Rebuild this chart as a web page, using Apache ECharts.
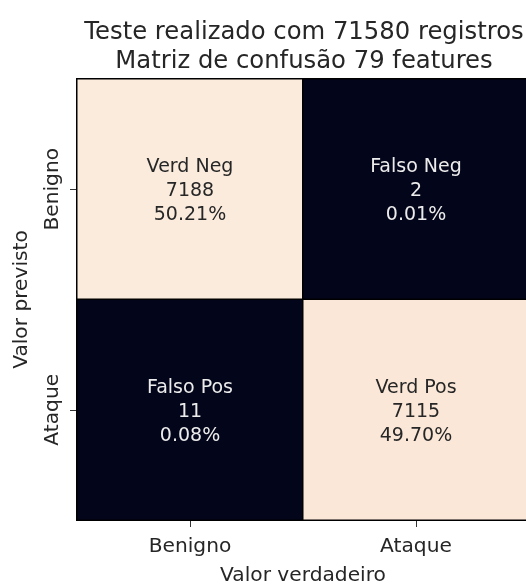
<!DOCTYPE html>
<html>
<head>
<meta charset="utf-8">
<script src="https://cdn.jsdelivr.net/npm/echarts@6/dist/echarts.min.js"></script>
<style>
  html, body { margin: 0; padding: 0; background: #fff; }
  #chart { width: 526px; height: 584px; }
</style>
</head>
<body>
<div id="chart"></div>
<script>
// categorias e valores da matriz
const trueCats = ['Benigno', 'Ataque']
const predCats = ['Benigno', 'Ataque']
// linhas = valor previsto, colunas = valor verdadeiro
const cellNames = [['Verd Neg', 'Falso Neg'], ['Falso Pos', 'Verd Pos']]
const cellCounts = [[7188, 2], [11, 7115]]
const cellPercents = [['50.21%', '0.01%'], ['0.08%', '49.70%']]

const font = 'DejaVu Sans'
const heatData = []
for (let r = 0; r < predCats.length; r++) {
  for (let c = 0; c < trueCats.length; c++) {
    heatData.push({
      value: [c, r, cellCounts[r][c]],
      label: { color: cellCounts[r][c] > 3600 ? '#262626' : '#ececec' }
    })
  }
}

const myChart = echarts.init(document.getElementById('chart'))
myChart.setOption({
  backgroundColor: '#fff',
  animation: false,
  title: {
    text: 'Teste realizado com 71580 registros\nMatriz de confusão 79 features',
    left: 299,
    top: 13,
    textAlign: 'center',
    textStyle: { fontFamily: font, fontSize: 24.3, fontWeight: 'normal', color: '#262626', lineHeight: 29 }
  },
  grid: { left: 77, top: 79, right: -3, bottom: 64, outerBoundsMode: 'none' },
  xAxis: {
    type: 'category',
    data: trueCats,
    name: 'Valor verdadeiro',
    nameLocation: 'middle',
    nameGap: 46,
    nameTextStyle: { fontFamily: font, fontSize: 20.2, color: '#262626' },
    axisLine: { show: false },
    axisTick: { show: true, alignWithLabel: true, length: 7, lineStyle: { color: '#333' } },
    axisLabel: { fontFamily: font, fontSize: 20.2, color: '#262626', margin: 17 },
    splitLine: { show: false }
  },
  yAxis: {
    type: 'category',
    data: predCats,
    inverse: true,
    name: 'Valor previsto',
    nameLocation: 'middle',
    nameRotate: 90,
    nameGap: 45,
    nameTextStyle: { fontFamily: font, fontSize: 20.2, color: '#262626' },
    axisLine: { show: false },
    axisTick: { show: true, alignWithLabel: true, length: 7, lineStyle: { color: '#333' } },
    axisLabel: { fontFamily: font, fontSize: 20.2, color: '#262626', rotate: 90, margin: 14 },
    splitLine: { show: false }
  },
  visualMap: {
    show: false,
    min: 2,
    max: 7188,
    inRange: { color: ['#03051a', '#4c1d4b', '#a11a5b', '#e83f3f', '#f69c73', '#faebdd'] }
  },
  series: [{
    type: 'heatmap',
    data: heatData,
    itemStyle: { borderColor: '#000', borderWidth: 1.5 },
    label: {
      show: true,
      fontFamily: font,
      fontSize: 19,
      lineHeight: 24,
      offset: [0, 2],
      formatter: function (p) {
        const c = p.value[0]
        const r = p.value[1]
        return cellNames[r][c] + '\n' + cellCounts[r][c] + '\n' + cellPercents[r][c]
      }
    }
  }]
})
</script>
</body>
</html>
